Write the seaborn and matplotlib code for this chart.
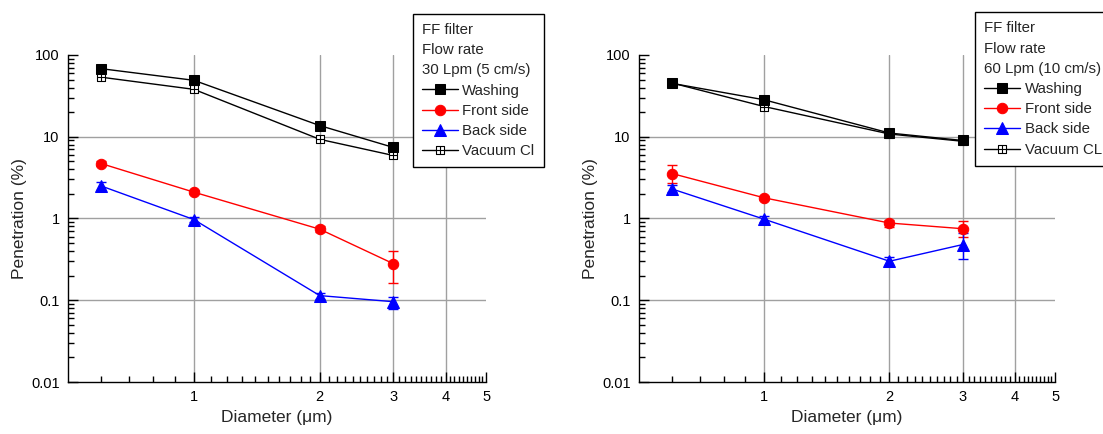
import numpy as np
import pandas as pd
import matplotlib
matplotlib.use('Agg')
import matplotlib.pyplot as plt
import seaborn as sns
from matplotlib.path import Path
from matplotlib.ticker import FixedLocator, FuncFormatter, LogLocator, NullFormatter

# ------------------------------------------------------------
# Data (penetration %, log-log axes)
# ------------------------------------------------------------
diameter = [0.6, 1, 2, 3]

# 30 Lpm (5 cm/s)
wash_30 = [68, 49, 13.7, 7.4]
vac_30 = [53.5, 38, 9.3, 5.9]
front_30 = [4.7, 2.1, 0.74, 0.28]
front_30_lo = [4.4, 2.0, 0.69, 0.163]
front_30_hi = [5.0, 2.25, 0.80, 0.40]
back_30 = [2.5, 0.97, 0.114, 0.096]
back_30_lo = [2.25, 0.90, 0.105, 0.079]
back_30_hi = [2.8, 1.04, 0.124, 0.11]

# 60 Lpm (10 cm/s)
wash_60 = [45, 28.3, 11.1, 9.0]
vac_60 = [45.5, 23.4, 10.8, 8.8]
front_60 = [3.55, 1.79, 0.88, 0.75]
front_60_lo = [2.7, 1.70, 0.78, 0.60]
front_60_hi = [4.47, 1.88, 0.97, 0.92]
back_60 = [2.3, 0.98, 0.30, 0.48]
back_60_lo = [2.1, 0.90, 0.27, 0.32]
back_60_hi = [2.6, 1.06, 0.34, 0.67]

panels = [
    ('FF filter\nFlow rate\n30 Lpm (5 cm/s)', 'Vacuum Cl', (0.825, 1.125),
     wash_30, front_30, front_30_lo, front_30_hi, back_30, back_30_lo, back_30_hi, vac_30),
    ('FF filter\nFlow rate\n60 Lpm (10 cm/s)', 'Vacuum CL', (0.808, 1.13),
     wash_60, front_60, front_60_lo, front_60_hi, back_60, back_60_lo, back_60_hi, vac_60),
]

# square with a cross inside (open marker for the vacuum series)
boxplus = Path(
    [(-1, -1), (1, -1), (1, 1), (-1, 1), (-1, -1),
     (0, -1), (0, 1), (-1, 0), (1, 0)],
    [Path.MOVETO, Path.LINETO, Path.LINETO, Path.LINETO, Path.CLOSEPOLY,
     Path.MOVETO, Path.LINETO, Path.MOVETO, Path.LINETO])

sns.set_theme(style='white')
plt.rcParams['font.family'] = ['Liberation Sans', 'DejaVu Sans']

fig = plt.figure(figsize=(11.03, 4.34), dpi=100)
ax_pos = [[0.0617, 0.1198, 0.379, 0.7535], [0.5793, 0.1198, 0.3772, 0.7535]]

minor_x = [round(v, 1) for v in np.arange(0.6, 5.0, 0.1) if abs(v - round(v)) > 1e-6]

for pos, (title, vac_label, anchor, wash, front, f_lo, f_hi, back, b_lo, b_hi, vac) in zip(ax_pos, panels):
    ax = fig.add_axes(pos)
    df = pd.DataFrame({'d': diameter, 'wash': wash, 'front': front, 'back': back, 'vac': vac})

    # error bars first so the markers sit on top
    ax.errorbar(df['d'], df['front'], yerr=[np.subtract(front, f_lo), np.subtract(f_hi, front)],
                fmt='none', ecolor='#ff0000', elinewidth=1, capsize=3.5, zorder=2)
    ax.errorbar(df['d'], df['back'], yerr=[np.subtract(back, b_lo), np.subtract(b_hi, back)],
                fmt='none', ecolor='#0000ff', elinewidth=1, capsize=3.5, zorder=2)

    sns.lineplot(data=df, x='d', y='wash', ax=ax, color='black', lw=1, marker='s',
                 markersize=7, markeredgecolor='black', label='Washing', zorder=4)
    sns.lineplot(data=df, x='d', y='front', ax=ax, color='#ff0000', lw=1, marker='o',
                 markersize=7.5, markeredgecolor='#ff0000', label='Front side', zorder=3)
    sns.lineplot(data=df, x='d', y='back', ax=ax, color='#0000ff', lw=1, marker='^',
                 markersize=8, markeredgecolor='#0000ff', label='Back side', zorder=3)
    sns.lineplot(data=df, x='d', y='vac', ax=ax, color='black', lw=1, marker=boxplus,
                 markersize=6, markerfacecolor='white', markeredgecolor='black',
                 markeredgewidth=0.8, label=vac_label, zorder=3)

    ax.set_xscale('log')
    ax.set_yscale('log')
    ax.set_xlim(0.5, 5)
    ax.set_ylim(0.01, 100)

    ax.xaxis.set_major_locator(FixedLocator([1, 2, 3, 4, 5]))
    ax.xaxis.set_minor_locator(FixedLocator(minor_x))
    ax.xaxis.set_major_formatter(FuncFormatter(lambda v, p: f'{v:g}'))
    ax.xaxis.set_minor_formatter(NullFormatter())
    ax.yaxis.set_major_locator(FixedLocator([0.01, 0.1, 1, 10, 100]))
    ax.yaxis.set_minor_locator(LogLocator(base=10, subs=np.arange(2, 10)))
    ax.yaxis.set_major_formatter(FuncFormatter(lambda v, p: f'{v:g}'))
    ax.yaxis.set_minor_formatter(NullFormatter())

    ax.tick_params(which='both', direction='in', color='black', width=1,
                   labelsize=10.5, labelcolor='black', left=True, bottom=True)
    ax.tick_params(which='major', length=7, pad=6)
    ax.tick_params(which='minor', length=4)

    ax.grid(True, which='major', color='#a0a0a0', lw=1)
    ax.grid(False, which='minor')
    for t, v in zip(ax.xaxis.get_major_ticks(), [1, 2, 3, 4, 5]):
        if v == 5:
            t.gridline.set_visible(False)
    for t, v in zip(ax.yaxis.get_major_ticks(), [0.01, 0.1, 1, 10, 100]):
        if v in (0.01, 100):
            t.gridline.set_visible(False)

    for s in ['top', 'right']:
        ax.spines[s].set_visible(False)
    for s in ['left', 'bottom']:
        ax.spines[s].set_color('black')
        ax.spines[s].set_linewidth(1)

    ax.set_xlabel('Diameter (μm)', fontsize=12.5, labelpad=4)
    ax.set_ylabel('Penetration (%)', fontsize=12.5, labelpad=3)

    leg = ax.legend(title=title, loc='upper left', bbox_to_anchor=anchor, frameon=True,
                    fancybox=False, edgecolor='black', framealpha=1, fontsize=10.8,
                    title_fontsize=10.8, alignment='left', handlelength=2.4,
                    handletextpad=0.3, labelspacing=0.42, borderpad=0.6,
                    borderaxespad=0)
    leg.get_frame().set_linewidth(1)
    leg.get_title().set_linespacing(1.55)
    leg.set_zorder(5)

plt.savefig('out.png', dpi=100)
plt.close()
